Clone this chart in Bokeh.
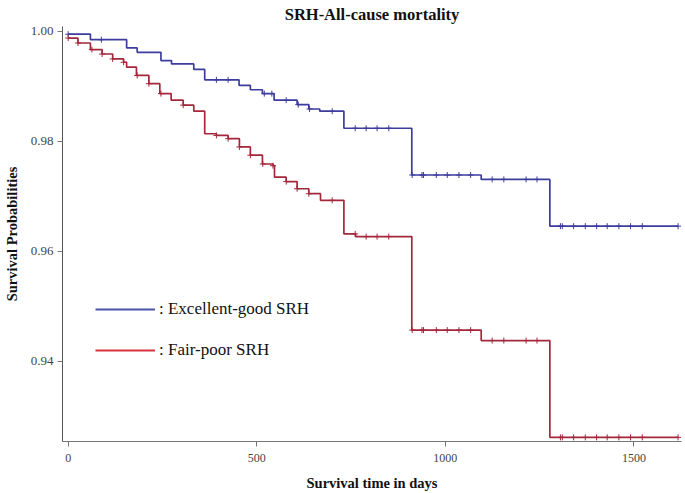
from bokeh.plotting import figure
from bokeh.models import (FixedTicker, NumeralTickFormatter, Range1d, Legend,
                          LegendItem, ColumnDataSource)
from bokeh.embed import file_html
from bokeh.resources import INLINE

# ---------------- data ----------------
title_text = "SRH-All-cause mortality"
x_label = "Survival time in days"
y_label = "Survival Probabilities"
label_eg = ": Excellent-good SRH"
label_fp = ": Fair-poor SRH"

eg_time = [0, 59, 155, 183, 246, 274, 333, 362, 453, 483, 515, 546, 607, 638,
           667, 731, 911, 1095, 1277, 1617]
eg_surv = [0.9995, 0.9985, 0.9970, 0.9962, 0.9947, 0.9941, 0.9931, 0.9912,
           0.9902, 0.9894, 0.9887, 0.9875, 0.9867, 0.9859, 0.9855, 0.9824,
           0.9739, 0.9731, 0.9646, 0.9646]

fp_time = [0, 26, 59, 90, 118, 147, 155, 181, 214, 243, 273, 305, 333, 362,
           393, 424, 454, 483, 515, 543, 547, 578, 607, 638, 669, 731, 762,
           911, 1095, 1277, 1617]
fp_surv = [0.9988, 0.9979, 0.9967, 0.9959, 0.9950, 0.9944, 0.9935, 0.9920,
           0.9905, 0.9887, 0.9875, 0.9866, 0.9855, 0.9814, 0.9811, 0.9805,
           0.9790, 0.9775, 0.9759, 0.9756, 0.9735, 0.9727, 0.9714, 0.9705,
           0.9693, 0.9632, 0.9627, 0.9457, 0.9438, 0.9262, 0.9262]

eg_censor = [0, 88, 393, 424, 520, 540, 578, 610, 640, 700, 761, 790, 819,
             850, 912, 938, 942, 976, 1005, 1036, 1067, 1124, 1155, 1214, 1243,
             1305, 1310, 1340, 1371, 1401, 1429, 1460, 1491, 1522, 1617]
fp_censor = [0, 26, 63, 90, 118, 147, 183, 214, 246, 305, 393, 424, 454, 483,
             516, 543, 578, 607, 638, 700, 761, 790, 819, 850, 912, 938, 942,
             976, 1005, 1036, 1067, 1124, 1155, 1214, 1243, 1305, 1310, 1340,
             1371, 1401, 1429, 1460, 1491, 1522, 1617]

x_ticks = [0, 500, 1000, 1500]
y_ticks = [0.94, 0.96, 0.98, 1.00]

# ---------------- styles ----------------
BLUE = "#3d3d9e"
RED = "#a3283c"
LEG_BLUE = "#4a55aa"
LEG_RED = "#d6333c"
SERIF = "Liberation Serif"
NAN = float("nan")


def surv_at(times, surv, t):
    v = surv[0]
    for ti, si in zip(times, surv):
        if ti <= t:
            v = si
    return v


p = figure(width=685, height=493, output_backend="svg", toolbar_location=None,
           x_range=Range1d(-15, 1626), y_range=Range1d(0.92545, 1.0009),
           min_border_left=62, min_border_right=4, min_border_top=26,
           min_border_bottom=52)

p.title.text = title_text
p.title.align = "center"
p.title.text_font = SERIF
p.title.text_font_size = "16.5px"
p.title.text_font_style = "bold"
p.title.text_color = "#111111"
p.title.standoff = 5

p.outline_line_color = None
p.xgrid.visible = False
p.ygrid.visible = False
p.background_fill_color = "white"
p.border_fill_color = "white"

# curves
p.step(eg_time, eg_surv, mode="after", line_color=BLUE, line_width=1.7)
p.step(fp_time, fp_surv, mode="after", line_color=RED, line_width=1.7)

eg_src = ColumnDataSource(dict(x=eg_censor,
                               y=[surv_at(eg_time, eg_surv, t) for t in eg_censor]))
fp_src = ColumnDataSource(dict(x=fp_censor,
                               y=[surv_at(fp_time, fp_surv, t) for t in fp_censor]))
p.scatter("x", "y", source=eg_src, marker="cross", size=6, line_color=BLUE,
          line_width=1)
p.scatter("x", "y", source=fp_src, marker="cross", size=6, line_color=RED,
          line_width=1)

# legend (dummy, undrawn renderers carry the legend colours)
r_eg = p.line([NAN], [NAN], line_color=LEG_BLUE, line_width=2)
r_fp = p.line([NAN], [NAN], line_color=LEG_RED, line_width=2)
legend = Legend(items=[LegendItem(label=label_eg, renderers=[r_eg]),
                       LegendItem(label=label_fp, renderers=[r_fp])],
                location=(33, 81), padding=0, margin=0, spacing=21,
                glyph_width=60, glyph_height=20, label_height=20,
                label_standoff=4, border_line_color=None,
                background_fill_alpha=0, label_text_font=SERIF,
                label_text_font_size="17px", label_text_color="#111111")
p.add_layout(legend)

# axes
for ax in (p.xaxis[0], p.yaxis[0]):
    ax.major_label_text_font = SERIF
    ax.major_label_text_color = "#444444"
    ax.axis_label_text_font = SERIF
    ax.axis_label_text_font_size = "14.5px"
    ax.axis_label_text_font_style = "bold"
    ax.axis_label_text_color = "#111111"
    ax.minor_tick_line_color = None
    ax.major_tick_in = 0
    ax.major_tick_out = 5
    ax.major_tick_line_color = "#777777"

p.xaxis.major_label_text_font_size = "12px"
p.yaxis.major_label_text_font_size = "13px"
p.xaxis.ticker = FixedTicker(ticks=x_ticks)
p.yaxis.ticker = FixedTicker(ticks=y_ticks)
p.yaxis.formatter = NumeralTickFormatter(format="0.00")
p.xaxis.axis_label = x_label
p.yaxis.axis_label = y_label
p.xaxis.axis_line_color = "#777777"
p.yaxis.axis_line_color = "#555555"
p.xaxis.major_label_standoff = 7
p.xaxis.axis_label_standoff = 10
p.yaxis.major_label_standoff = 4
p.yaxis.axis_label_standoff = 8

open("out.html", "w").write(file_html(p, INLINE))
